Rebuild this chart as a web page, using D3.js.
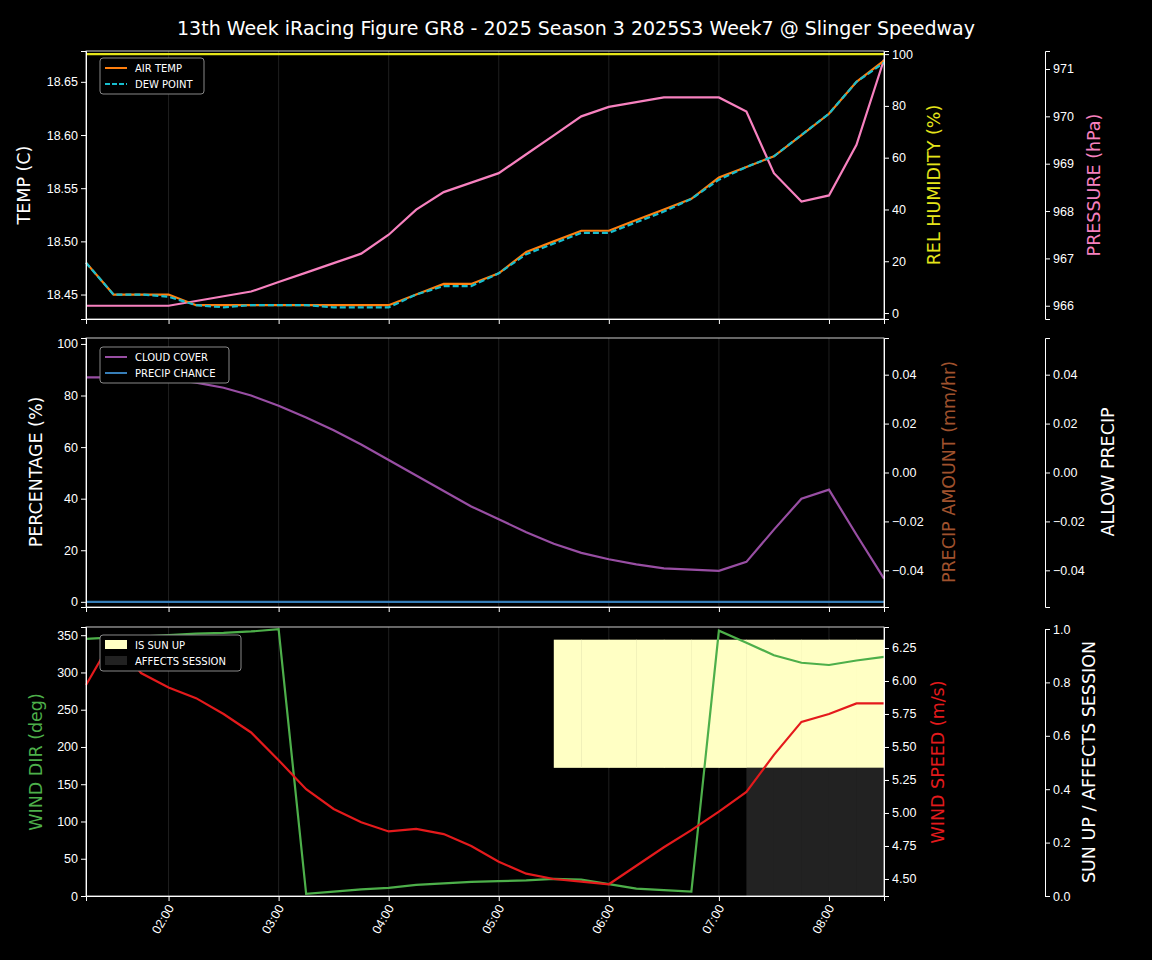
<!DOCTYPE html><html><head><meta charset="utf-8">
<script src="https://cdn.jsdelivr.net/npm/d3@7"></script>
<style>body{margin:0;background:#000}svg{font-family:"DejaVu Sans",sans-serif}</style></head><body>
<svg id="c" width="1152" height="960"></svg>
<script>
const times=["01:15","01:30","01:45","02:00","02:15","02:30","02:45","03:00","03:15","03:30","03:45","04:00","04:15","04:30","04:45","05:00","05:15","05:30","05:45","06:00","06:15","06:30","06:45","07:00","07:15","07:30","07:45","08:00","08:15","08:30"];
const airTemp=[18.48,18.45,18.45,18.45,18.44,18.44,18.44,18.44,18.44,18.44,18.44,18.44,18.45,18.46,18.46,18.47,18.49,18.50,18.51,18.51,18.52,18.53,18.54,18.56,18.57,18.58,18.60,18.62,18.65,18.67];
const dewPoint=[18.48,18.45,18.45,18.448,18.44,18.438,18.44,18.44,18.44,18.438,18.438,18.438,18.45,18.458,18.458,18.47,18.488,18.498,18.508,18.508,18.518,18.528,18.54,18.558,18.57,18.58,18.60,18.62,18.65,18.668];
const humidity=[100,100,100,100,100,100,100,100,100,100,100,100,100,100,100,100,100,100,100,100,100,100,100,100,100,100,100,100,100,100];
const pressure=[966.0,966.0,966.0,966.0,966.1,966.2,966.3,966.5,966.7,966.9,967.1,967.5,968.03,968.4,968.6,968.8,969.2,969.6,970.0,970.2,970.3,970.4,970.4,970.4,970.1,968.8,968.2,968.33,969.4,971.2];
const cloudCover=[87,87,87,86.5,85,83,80,76,71.5,66.5,61,55,49,43,37,32,27,22.5,19,16.5,14.5,13,12.5,12,15.5,28,40,43.5,26,9];
const precipChance=times.map(()=>0);
const windDir=[345,347,348,350,352,353,355,358,3,6,9,11,15,17,19,20,21,23,22,16,10,8,6,356,340,323,313,310,316,321];
const windSpeed=[5.97,6.33,6.06,5.95,5.87,5.75,5.61,5.40,5.18,5.03,4.93,4.86,4.88,4.84,4.75,4.63,4.54,4.50,4.48,4.46,4.60,4.74,4.87,5.01,5.16,5.44,5.69,5.75,5.83,5.83];
const sunUp=[0,0,0,0,0,0,0,0,0,0,0,0,0,0,0,0,0,1,1,1,1,1,1,1,1,1,1,1,1,1];
const affects=[0,0,0,0,0,0,0,0,0,0,0,0,0,0,0,0,0,0,0,0,0,0,0,0,1,1,1,1,1,1];
const hourTicks=["02:00","03:00","04:00","05:00","06:00","07:00","08:00"];

const svg=d3.select("#c");
svg.append("rect").attr("width",1152).attr("height",960).attr("fill","#000");
const p=s=>{const [h,m]=s.split(":").map(Number);return new Date(2025,0,1,h,m);};
const L=86,R=884;
const x=d3.scaleTime().domain([p("01:15"),p("08:30")]).range([L,R]);
svg.append("text").attr("x",576).attr("y",35).attr("text-anchor","middle").attr("fill","#fff").attr("font-size",19).text("13th Week iRacing Figure GR8 - 2025 Season 3 2025S3 Week7 @ Slinger Speedway");

function frame(t,b){
  const g=svg.append("g");
  hourTicks.forEach(h=>g.append("line").attr("x1",x(p(h))).attr("x2",x(p(h))).attr("y1",t).attr("y2",b).attr("stroke","#333").attr("stroke-opacity",0.6));
  return g;
}
function border(t,b){svg.append("rect").attr("x",L).attr("y",t).attr("width",R-L).attr("height",b-t).attr("fill","none").attr("stroke","#fff").attr("stroke-width",0.8);}
function xAxis(t,b,labels){
  const a=svg.append("g").attr("transform",`translate(0,${b})`).call(d3.axisBottom(x).tickValues(hourTicks.map(p)).tickFormat(labels?d3.timeFormat("%H:%M"):"").tickSize(5));
  style(a);
  if(labels) a.selectAll("text").attr("transform","rotate(-60)").attr("text-anchor","end").attr("dx","-0.6em").attr("dy","0.2em");
}
function style(a){a.selectAll("path,line").attr("stroke","#fff");a.selectAll("text").attr("fill","#fff").attr("font-size",12.5);}
function axisL(s,xpos,ticks,fmt){const a=svg.append("g").attr("transform",`translate(${xpos},0)`).call(d3.axisLeft(s).tickValues(ticks).tickFormat(fmt).tickSize(5));style(a);}
function axisR(s,xpos,ticks,fmt){const a=svg.append("g").attr("transform",`translate(${xpos},0)`).call(d3.axisRight(s).tickValues(ticks).tickFormat(fmt).tickSize(5));style(a);}
function label(xp,yp,txt,col){svg.append("text").attr("transform",`translate(${xp},${yp}) rotate(-90)`).attr("text-anchor","middle").attr("fill",col).attr("font-size",17.5).text(txt);}
function line(data,y,col,dash,w){svg.append("path").datum(data).attr("fill","none").attr("stroke",col).attr("stroke-width",w||2.2).attr("stroke-dasharray",dash||null).attr("d",d3.line().x((d,i)=>x(p(times[i]))).y(d=>y(d)));}
function legend(yTop,items,w){
  const g=svg.append("g").attr("transform",`translate(100,${yTop})`);
  g.append("rect").attr("width",w).attr("height",items.length*16+4).attr("rx",3).attr("fill","#000").attr("stroke","#888");
  items.forEach((it,i)=>{const yy=10+i*16;
    if(it.box) g.append("rect").attr("x",5).attr("y",yy-5).attr("width",22).attr("height",9).attr("fill",it.col);
    else g.append("line").attr("x1",5).attr("x2",27).attr("y1",yy).attr("y2",yy).attr("stroke",it.col).attr("stroke-width",2).attr("stroke-dasharray",it.dash||null);
    g.append("text").attr("x",35).attr("y",yy+4).attr("fill","#fff").attr("font-size",10).text(it.t);});
}
const fmt2=d3.format(".2f");
// Panel 1
let t=51,b=319;
frame(t,b);
const yT=d3.scaleLinear().domain([18.427,18.679]).range([b,t]);
const yH=d3.scaleLinear().domain([-2.3,101.2]).range([b,t]);
const yP=d3.scaleLinear().domain([965.72,971.38]).range([b,t]);
line(humidity,yH,"#e5e51a");
line(pressure,yP,"#f781bf");
line(airTemp,yT,"#ff7f0e");
line(dewPoint,yT,"#17becf","6,3");
border(t,b);xAxis(t,b,false);
axisL(yT,L,[18.45,18.50,18.55,18.60,18.65],fmt2);
axisR(yH,R,[0,20,40,60,80,100],d3.format("d"));
axisR(yP,1045,[966,967,968,969,970,971],d3.format("d"));
label(30,185,"TEMP (C)","#fff");label(940,185,"REL HUMIDITY (%)","#e5e51a");label(1100,185,"PRESSURE (hPa)","#f781bf");
legend(58,[{t:"AIR TEMP",col:"#ff7f0e"},{t:"DEW POINT",col:"#17becf",dash:"5,2"}],104);
// Panel 2
t=338;b=607;
frame(t,b);
const yPc=d3.scaleLinear().domain([-2,102.3]).range([b,t]);
const yA=d3.scaleLinear().domain([-0.055,0.055]).range([b,t]);
line(cloudCover,yPc,"#984ea3");
line(precipChance,yPc,"#377eb8");
border(t,b);xAxis(t,b,false);
axisL(yPc,L,[0,20,40,60,80,100],d3.format("d"));
axisR(yA,R,[-0.04,-0.02,0,0.02,0.04],fmt2);
axisR(yA,1045,[-0.04,-0.02,0,0.02,0.04],fmt2);
label(42,472,"PERCENTAGE (%)","#fff");label(955,472,"PRECIP AMOUNT (mm/hr)","#a0522d");label(1114,472,"ALLOW PRECIP","#fff");
legend(347,[{t:"CLOUD COVER",col:"#984ea3"},{t:"PRECIP CHANCE",col:"#377eb8"}],129);
// Panel 3
t=627;b=896;
frame(t,b);
const yS=d3.scaleLinear().domain([0,1.0]).range([b,629]);
const step=15*60000;
sunUp.forEach((v,i)=>{if(v){const d=p(times[i]);const x0=x(new Date(+d)),x1=Math.min(R,x(new Date(+d+step)));svg.append("rect").attr("x",x0).attr("width",Math.max(0,x1-x0)+0.5).attr("y",yS(0.96)).attr("height",yS(0.48)-yS(0.96)).attr("fill","#ffffc4");}});
affects.forEach((v,i)=>{if(v){const d=p(times[i]);const x0=x(d),x1=Math.min(R,x(new Date(+d+step)));svg.append("rect").attr("x",x0).attr("width",Math.max(0,x1-x0)+0.5).attr("y",yS(0.48)).attr("height",yS(0)-yS(0.48)).attr("fill","#222");}});
const yD=d3.scaleLinear().domain([0,361]).range([b,t]);
const yW=d3.scaleLinear().domain([4.371,6.409]).range([b,t]);
line(windDir,yD,"#4daf4a");
line(windSpeed,yW,"#e41a1c");
border(t,b);xAxis(t,b,true);
axisL(yD,L,[0,50,100,150,200,250,300,350],d3.format("d"));
axisR(yW,R,[4.5,4.75,5.0,5.25,5.5,5.75,6.0,6.25],fmt2);
axisR(yS,1045,[0,0.2,0.4,0.6,0.8,1.0],d3.format(".1f"));
label(42,762,"WIND DIR (deg)","#4daf4a");label(944,762,"WIND SPEED (m/s)","#e41a1c");label(1095,762,"SUN UP / AFFECTS SESSION","#fff");
legend(635,[{t:"IS SUN UP",col:"#ffffc4",box:true},{t:"AFFECTS SESSION",col:"#222",box:true}],141);
</script></body></html>
